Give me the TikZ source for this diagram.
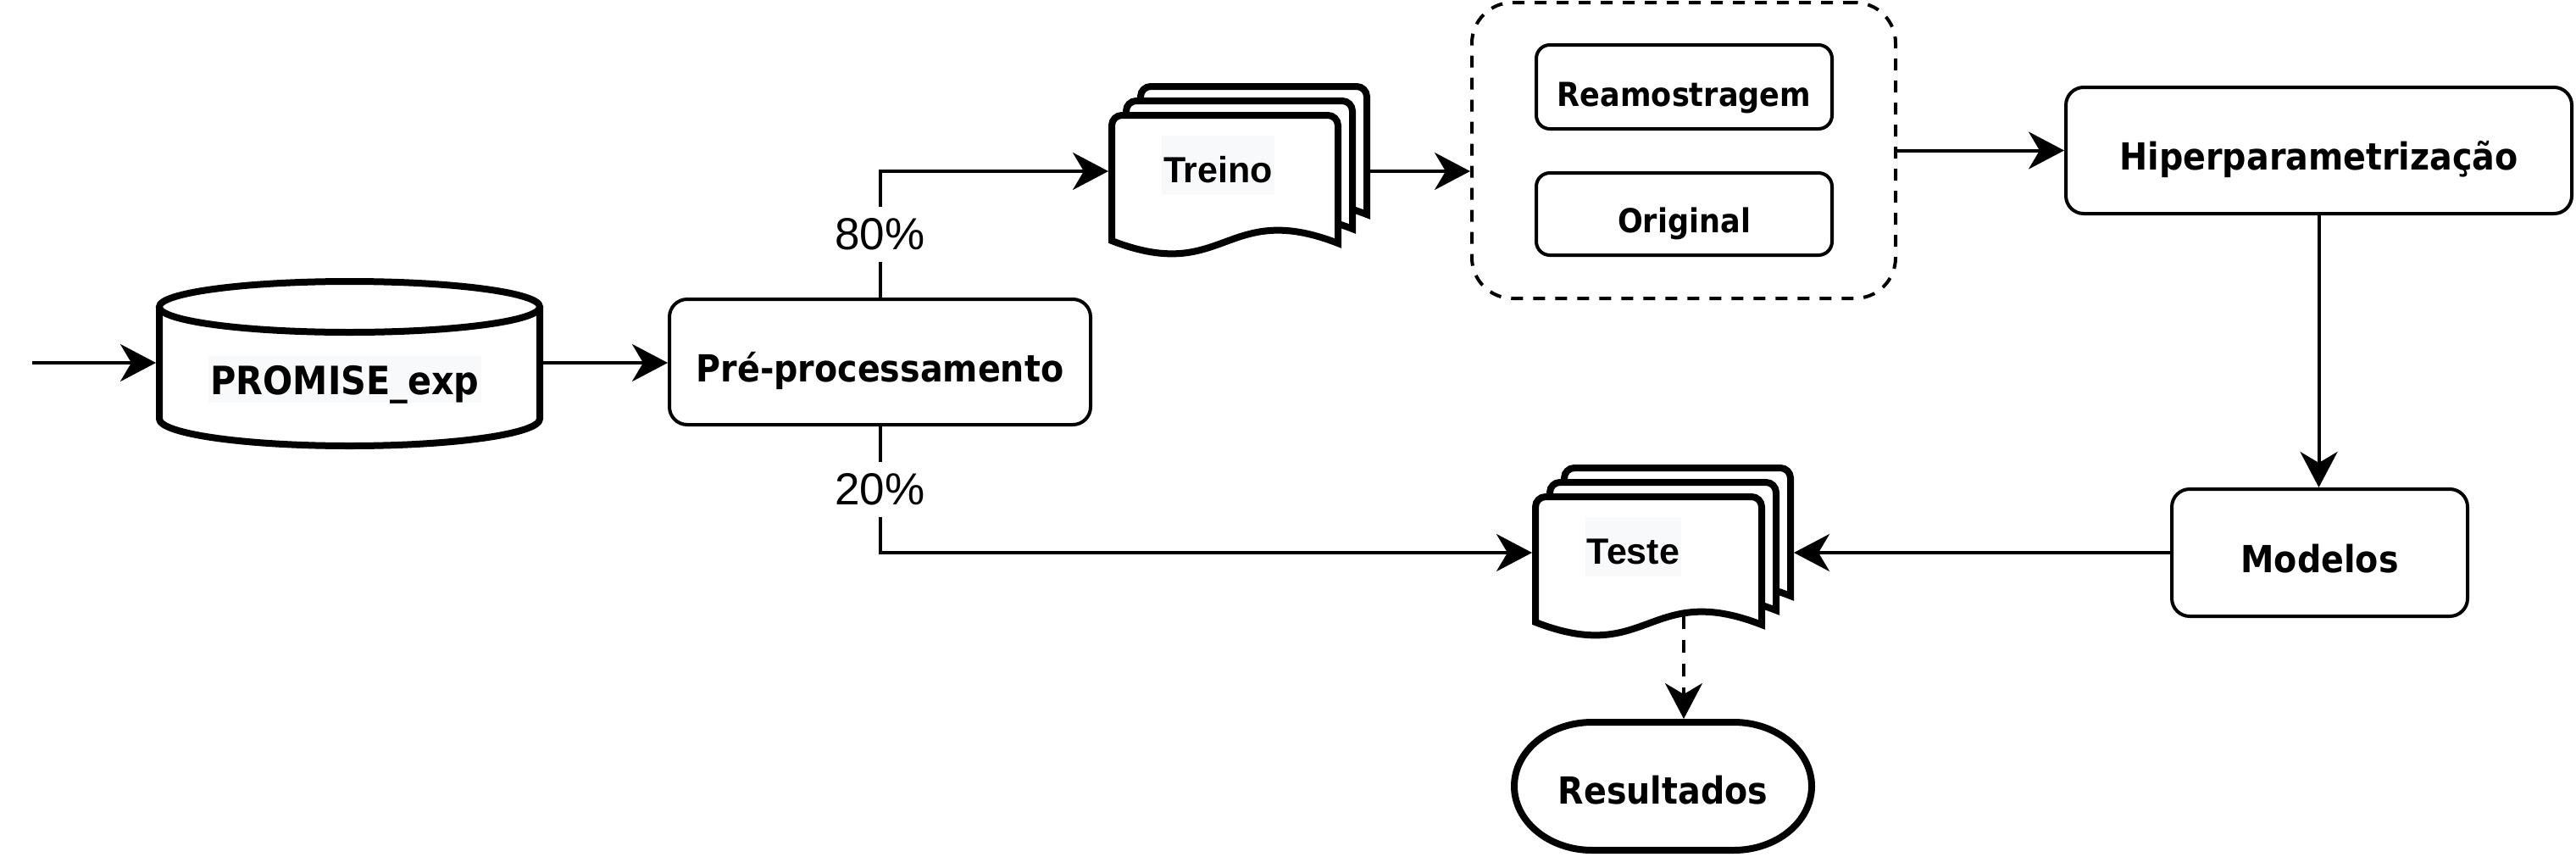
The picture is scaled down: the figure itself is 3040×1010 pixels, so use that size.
\documentclass[tikz,border=0pt]{standalone}
\usepackage{fontspec}
\newfontfamily\cbf{DejaVu Sans Condensed Bold}
\newfontfamily\lsans{Liberation Sans}
\usetikzlibrary{arrows.meta}
\definecolor{hl}{RGB}{248,249,250}
\newcommand\docsheet[2]{%
  \filldraw[fill=white, line width=8pt]
  (#1,#2+148) -- (#1,#2+12) .. controls (#1,#2+5.4) and (#1+5.4,#2) .. (#1+12,#2)
  -- (#1+255,#2) .. controls (#1+261.6,#2) and (#1+267,#2+5.4) .. (#1+267,#2+12)
  -- (#1+267,#2+151) .. controls (#1+133.5,#2+99) and (#1+133.5,#2+200) .. (#1,#2+148) -- cycle;}
\begin{document}
\begin{tikzpicture}[x=1pt,y=-1pt,
  conn/.style={line width=4pt, -{Stealth[length=42pt,width=44pt,inset=13pt]}},
  box/.style={draw, line width=4pt, rounded corners=21pt, fill=white,
    font=\cbf\fontsize{44}{53}\selectfont, text depth=0pt, inner sep=0pt},
  smallbox/.style={box, rounded corners=16pt, font=\cbf\fontsize{39}{47}\selectfont},
  pct/.style={fill=white, font=\lsans\fontsize{53}{64}\selectfont,
    text height=50pt, text depth=15pt, inner xsep=4pt, inner ysep=0pt},
  hlt/.style={fill=hl, font=\lsans\bfseries\fontsize{43}{52}\selectfont,
    text height=55pt, text depth=15pt, inner xsep=2pt, inner ysep=0pt, anchor=base},
  anchorbox/.style={inner sep=0pt, outer sep=0pt},
  thickline/.style={line width=8pt}
]
\fill[white] (0,0) rectangle (3040,1010);
\useasboundingbox (0,0) rectangle (3040,1010);

% dashed group
\node[draw, line width=4pt, rounded corners=48pt, dash pattern=on 14pt off 12pt,
  minimum width=500pt, minimum height=349pt, inner sep=0pt] (grupo) at (1987,177.5) {};
\node[smallbox, minimum width=349pt, minimum height=99pt, text height=45pt] (reamo) at (1987.5,102.5) {Reamostragem};
\node[smallbox, minimum width=349pt, minimum height=97pt, text height=43pt] (orig) at (1987.5,252.5) {Original};

% cylinder
\node[anchorbox, minimum width=457pt, minimum height=194pt] (promise) at (412.5,428) {};
\path[fill=white] (188,362) -- (188,494) .. controls (188,511.7) and (288.6,526) .. (412.5,526)
  .. controls (536.4,526) and (637,511.7) .. (637,494) -- (637,362)
  .. controls (637,345.4) and (536.4,332) .. (412.5,332)
  .. controls (288.6,332) and (188,345.4) .. (188,362) -- cycle;
\draw[thickline] (412.5,362) ellipse [x radius=224.5, y radius=30];
\draw[thickline] (188,362) -- (188,494) .. controls (188,511.7) and (288.6,526) .. (412.5,526)
  .. controls (536.4,526) and (637,511.7) .. (637,494) -- (637,362);
\node[hlt, font=\cbf\fontsize{46}{55}\selectfont, text height=45pt, text depth=10pt] (promtxt) at (407,465) {PROMISE\_exp};

% Treino stack
\docsheet{1346}{102}
\docsheet{1329}{119}
\docsheet{1312}{136}
\node[anchorbox, minimum width=309pt, minimum height=140pt] (treinodoc) at (1462.5,202) {};
\node[hlt] (treino) at (1437.5,215) {Treino};

% Teste stack
\docsheet{1846}{552}
\docsheet{1829}{569}
\docsheet{1812}{586}
\node[anchorbox, minimum width=309pt, minimum height=132pt] (testedoc) at (1962.5,652) {};
\node[hlt] (teste) at (1927.5,665) {Teste};

% boxes
\node[box, minimum width=497pt, minimum height=148pt, text height=46pt] (pre) at (1038.5,427) {Pré-processamento};
\node[box, minimum width=597pt, minimum height=149pt, text height=45pt] (hiper) at (2736.5,177.5) {Hiperparametrização};
\node[box, minimum width=349pt, minimum height=150pt, text height=46pt] (modelos) at (2737.5,652) {Modelos};

% terminator with elliptical ends
\filldraw[fill=white, thickline] (1879,852) -- (2046,852)
  .. controls (2096.8,852) and (2138,885.8) .. (2138,927.5)
  .. controls (2138,969.2) and (2096.8,1003) .. (2046,1003)
  -- (1879,1003)
  .. controls (1828.2,1003) and (1787,969.2) .. (1787,927.5)
  .. controls (1787,885.8) and (1828.2,852) .. (1879,852) -- cycle;
\node[anchorbox, minimum width=359pt, minimum height=159pt,
  font=\cbf\fontsize{44}{53}\selectfont, text height=41pt, text depth=0pt] (result) at (1962.5,927.5) {Resultados};

% connectors
\coordinate (entrada) at (38,428);
\draw[conn] (entrada) -- (promise.west);
\draw[conn] (promise.east) -- (promise.east -| pre.west);
\draw[conn] (pre.north) |- node[pct, pos=0.25] (p80) {80\%} (treinodoc.west);
\draw[conn] (pre.south) |- node[pct, pos=0.25] (p20) {20\%} (testedoc.west);
\draw[conn] (treinodoc.east) -- (treinodoc.east -| grupo.west);
\draw[conn] (grupo.east) -- (hiper.west);
\draw[conn] (hiper.south) -- (hiper.south |- modelos.north);
\draw[conn] (modelos.west) -- (testedoc.east);
\coordinate (testebase) at (1987,727);
\draw[conn, dash pattern=on 15pt off 13pt] (testebase) -- (testebase |- result.north);
\end{tikzpicture}
\end{document}
